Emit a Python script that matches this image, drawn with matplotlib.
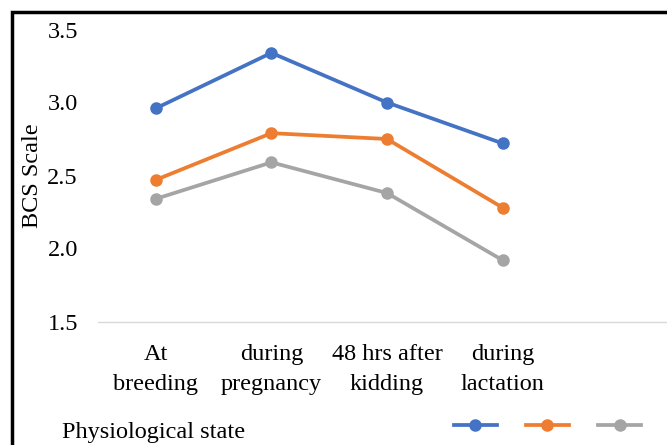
import matplotlib
matplotlib.use('Agg')

import matplotlib.pyplot as plt
from matplotlib.lines import Line2D
from matplotlib.patches import Rectangle

# Body condition score by physiological state, three groups
stages = ['At\nbreeding', 'during\npregnancy', '48 hrs after\nkidding', 'during\nlactation']
group_1 = [2.96, 3.34, 3.00, 2.72]
group_2 = [2.47, 2.79, 2.75, 2.28]
group_3 = [2.34, 2.59, 2.38, 1.92]
series_colours = ['#4472C4', '#ED7D31', '#A5A5A5']
y_ticks = [1.5, 2.0, 2.5, 3.0, 3.5]

plt.rcParams['font.family'] = ['Liberation Serif', 'DejaVu Serif']
FS = 17.5

W, H = 667, 445
fig = plt.figure(figsize=(W / 100, H / 100), dpi=100)
ax = fig.add_axes([98 / W, 1 - 321.5 / H, 578 / W, 292 / H])

x = list(range(len(stages)))
for vals, col in zip([group_1, group_2, group_3], series_colours):
    ax.plot(x, vals, color=col, lw=2.7, marker='o', ms=8,
            solid_capstyle='round', zorder=3)

ax.set_xlim(-0.5, 4.5)
ax.set_ylim(1.5, 3.5)
ax.set_yticks(y_ticks)
ax.set_yticklabels([f'{t:.1f}' for t in y_ticks])
ax.set_xticks(x)
ax.set_xticklabels(stages, linespacing=1.6)

for side in ['left', 'right', 'top']:
    ax.spines[side].set_visible(False)
ax.spines['bottom'].set_color('#d9d9d9')
ax.spines['bottom'].set_linewidth(1.0)
ax.tick_params(axis='both', length=0, labelsize=FS, colors='black')
ax.tick_params(axis='y', pad=14.5)
ax.tick_params(axis='x', pad=16)

ax.set_ylabel('BCS Scale', fontsize=FS)
ax.yaxis.set_label_coords(-55 / 578, 0.5)

# x-axis title sits at the bottom-left, beside the legend
fig.text(62 / W, 1 - 438 / H, 'Physiological state', fontsize=FS,
         ha='left', va='baseline')

handles = [Line2D([], [], color=c, lw=2.7, marker='o', ms=8) for c in series_colours]
fig.legend(handles, ['', '', ''], ncol=3, frameon=False,
           loc='center', bbox_to_anchor=(547.5 / W, 1 - 427 / H),
           handlelength=1.77, handletextpad=0, columnspacing=1.2, fontsize=FS)

# black outline around the chart area
fig.patches.append(Rectangle((11.5 / W, -0.2), 1.2, 1.2 - 11.5 / H,
                             transform=fig.transFigure, fill=False,
                             edgecolor='black', lw=2.5, zorder=10))

fig.savefig('out.png', dpi=100)
